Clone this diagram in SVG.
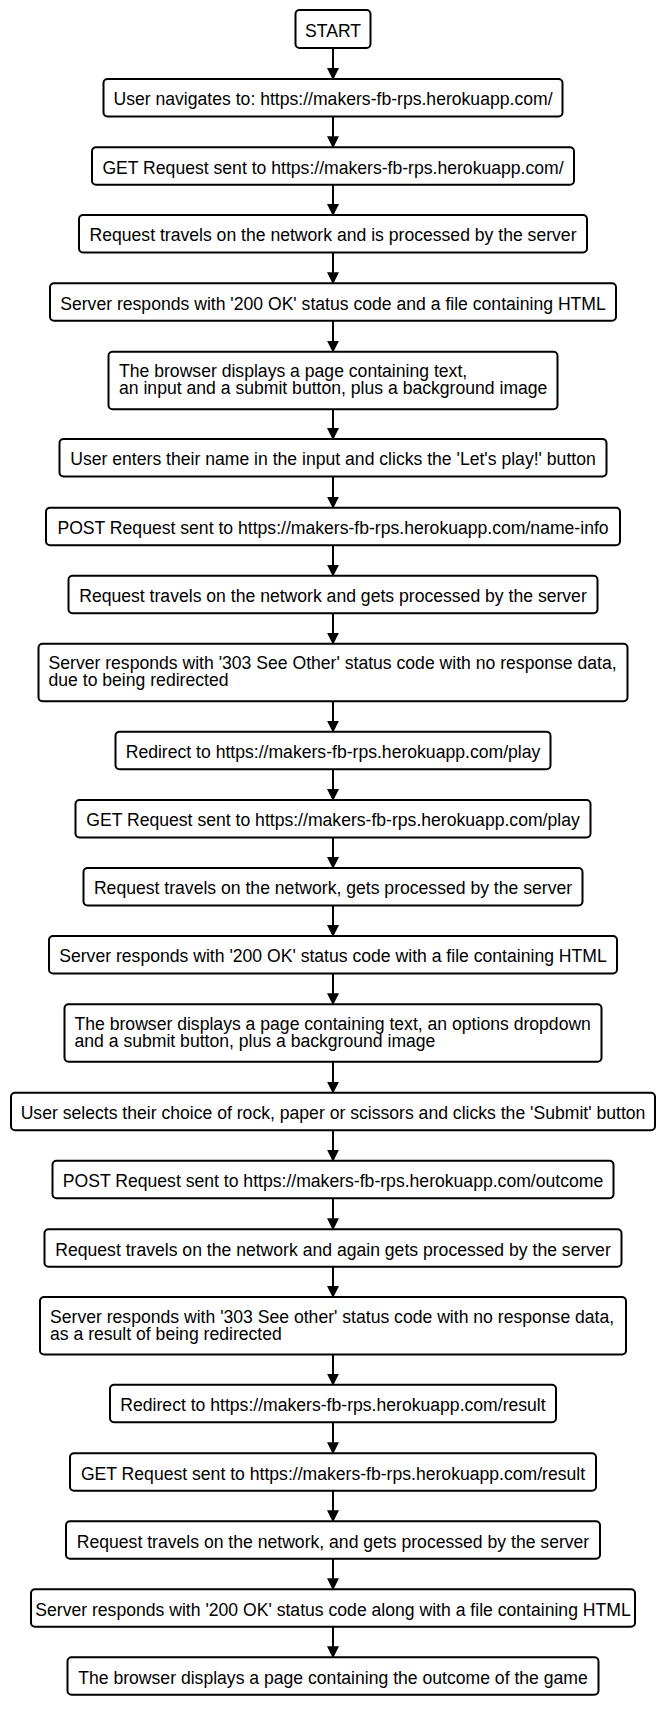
<svg xmlns="http://www.w3.org/2000/svg" width="665" height="1717" viewBox="0 0 665 1717">
<defs>
<style>
.box{fill:#fff;stroke:#000;stroke-width:2}
.t{font-family:"Liberation Sans",Arial,Helvetica,sans-serif;font-size:17.6px;fill:#000}
.c{text-anchor:middle}
.edge{stroke:#000;stroke-width:2;fill:none;marker-end:url(#ah)}
</style>
<marker id="ah" markerUnits="userSpaceOnUse" markerWidth="12" markerHeight="12" refX="11" refY="6" orient="auto" viewBox="0 0 12 12">
<path d="M0,0 L12,6 L0,12 z" fill="#000"/>
</marker>
</defs>
<rect width="665" height="1717" fill="#fff"/>
<g id="connectors">
<line class="edge" x1="333" y1="48" x2="333" y2="79"/>
<line class="edge" x1="333" y1="116.5" x2="333" y2="147.3"/>
<line class="edge" x1="333" y1="184.8" x2="333" y2="215"/>
<line class="edge" x1="333" y1="252.5" x2="333" y2="283.3"/>
<line class="edge" x1="333" y1="320.8" x2="333" y2="351.7"/>
<line class="edge" x1="333" y1="409.2" x2="333" y2="439"/>
<line class="edge" x1="333" y1="476.5" x2="333" y2="507.7"/>
<line class="edge" x1="333" y1="545.2" x2="333" y2="575.7"/>
<line class="edge" x1="333" y1="613.2" x2="333" y2="643.7"/>
<line class="edge" x1="333" y1="701.2" x2="333" y2="731.7"/>
<line class="edge" x1="333" y1="769.2" x2="333" y2="800"/>
<line class="edge" x1="333" y1="837.5" x2="333" y2="868"/>
<line class="edge" x1="333" y1="905.5" x2="333" y2="936"/>
<line class="edge" x1="333" y1="973.5" x2="333" y2="1004.3"/>
<line class="edge" x1="333" y1="1061.8" x2="333" y2="1092.7"/>
<line class="edge" x1="333" y1="1130.2" x2="333" y2="1160.7"/>
<line class="edge" x1="333" y1="1198.2" x2="333" y2="1229.3"/>
<line class="edge" x1="333" y1="1266.8" x2="333" y2="1297"/>
<line class="edge" x1="333" y1="1354.5" x2="333" y2="1384.7"/>
<line class="edge" x1="333" y1="1422.2" x2="333" y2="1453.3"/>
<line class="edge" x1="333" y1="1490.8" x2="333" y2="1521.3"/>
<line class="edge" x1="333" y1="1558.8" x2="333" y2="1589.3"/>
<line class="edge" x1="333" y1="1626.8" x2="333" y2="1657.3"/>
</g>
<g id="n0"><rect class="box" x="295.5" y="10" width="75" height="38" rx="4"/><text class="t c" x="333" y="36.8">START</text></g>
<g id="n1"><rect class="box" x="103.5" y="79" width="459" height="37.5" rx="4"/><text class="t c" x="333" y="105.3">User navigates to: https://makers-fb-rps.herokuapp.com/</text></g>
<g id="n2"><rect class="box" x="92" y="147.3" width="482" height="37.5" rx="4"/><text class="t c" x="333" y="173.6">GET Request sent to https://makers-fb-rps.herokuapp.com/</text></g>
<g id="n3"><rect class="box" x="79" y="215" width="508" height="37.5" rx="4"/><text class="t c" x="333" y="241.3">Request travels on the network and is processed by the server</text></g>
<g id="n4"><rect class="box" x="50" y="283.3" width="566" height="37.5" rx="4"/><text class="t c" x="333" y="309.6">Server responds with '200 OK' status code and a file containing HTML</text></g>
<g id="n5"><rect class="box" x="108.5" y="351.7" width="449" height="57.5" rx="4"/><text class="t" x="119" y="377.3">The browser displays a page containing text,</text><text class="t" x="119" y="394.3">an input and a submit button, plus a background image</text></g>
<g id="n6"><rect class="box" x="59.5" y="439" width="547" height="37.5" rx="4"/><text class="t c" x="333" y="465.3">User enters their name in the input and clicks the 'Let's play!' button</text></g>
<g id="n7"><rect class="box" x="46" y="507.7" width="574" height="37.5" rx="4"/><text class="t c" x="333" y="534">POST Request sent to https://makers-fb-rps.herokuapp.com/name-info</text></g>
<g id="n8"><rect class="box" x="68.5" y="575.7" width="529" height="37.5" rx="4"/><text class="t c" x="333" y="602">Request travels on the network and gets processed by the server</text></g>
<g id="n9"><rect class="box" x="38.5" y="643.7" width="589" height="57.5" rx="4"/><text class="t" x="48.5" y="669.3">Server responds with '303 See Other' status code with no response data,</text><text class="t" x="48.5" y="686.3">due to being redirected</text></g>
<g id="n10"><rect class="box" x="115.5" y="731.7" width="435" height="37.5" rx="4"/><text class="t c" x="333" y="758">Redirect to https://makers-fb-rps.herokuapp.com/play</text></g>
<g id="n11"><rect class="box" x="75.5" y="800" width="515" height="37.5" rx="4"/><text class="t c" x="333" y="826.3">GET Request sent to https://makers-fb-rps.herokuapp.com/play</text></g>
<g id="n12"><rect class="box" x="83.5" y="868" width="499" height="37.5" rx="4"/><text class="t c" x="333" y="894.3">Request travels on the network, gets processed by the server</text></g>
<g id="n13"><rect class="box" x="49" y="936" width="568" height="37.5" rx="4"/><text class="t c" x="333" y="962.3">Server responds with '200 OK' status code with a file containing HTML</text></g>
<g id="n14"><rect class="box" x="64.5" y="1004.3" width="537" height="57.5" rx="4"/><text class="t" x="74.5" y="1029.9">The browser displays a page containing text, an options dropdown</text><text class="t" x="74.5" y="1046.9">and a submit button, plus a background image</text></g>
<g id="n15"><rect class="box" x="11" y="1092.7" width="644" height="37.5" rx="4"/><text class="t c" x="333" y="1119">User selects their choice of rock, paper or scissors and clicks the 'Submit' button</text></g>
<g id="n16"><rect class="box" x="52.5" y="1160.7" width="561" height="37.5" rx="4"/><text class="t c" x="333" y="1187">POST Request sent to https://makers-fb-rps.herokuapp.com/outcome</text></g>
<g id="n17"><rect class="box" x="44.5" y="1229.3" width="577" height="37.5" rx="4"/><text class="t c" x="333" y="1255.6">Request travels on the network and again gets processed by the server</text></g>
<g id="n18"><rect class="box" x="40" y="1297" width="586" height="57.5" rx="4"/><text class="t" x="50" y="1322.6">Server responds with '303 See other' status code with no response data,</text><text class="t" x="50" y="1339.6">as a result of being redirected</text></g>
<g id="n19"><rect class="box" x="110" y="1384.7" width="446" height="37.5" rx="4"/><text class="t c" x="333" y="1411">Redirect to https://makers-fb-rps.herokuapp.com/result</text></g>
<g id="n20"><rect class="box" x="70" y="1453.3" width="526" height="37.5" rx="4"/><text class="t c" x="333" y="1479.6">GET Request sent to https://makers-fb-rps.herokuapp.com/result</text></g>
<g id="n21"><rect class="box" x="66" y="1521.3" width="534" height="37.5" rx="4"/><text class="t c" x="333" y="1547.6">Request travels on the network, and gets processed by the server</text></g>
<g id="n22"><rect class="box" x="31" y="1589.3" width="604" height="37.5" rx="4"/><text class="t c" x="333" y="1615.6">Server responds with '200 OK' status code along with a file containing HTML</text></g>
<g id="n23"><rect class="box" x="67.5" y="1657.3" width="531" height="37.5" rx="4"/><text class="t c" x="333" y="1683.6">The browser displays a page containing the outcome of the game</text></g>
</svg>
